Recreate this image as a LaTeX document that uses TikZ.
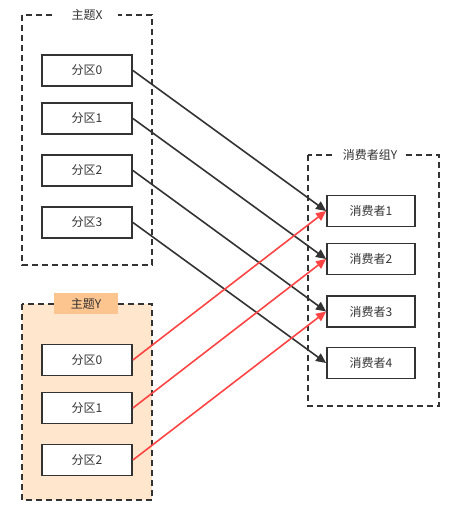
\documentclass[tikz,border=0pt]{standalone}
\usepackage{fontspec}
\setmainfont{Noto Sans CJK SC}
\usetikzlibrary{arrows.meta}
\definecolor{dk}{HTML}{333333}
\definecolor{redln}{HTML}{FF4444}
\definecolor{orbg}{HTML}{FFE6CC}
\definecolor{orlab}{HTML}{FCC48E}
\begin{document}
\begin{tikzpicture}[x=1pt,y=-1pt,
  every node/.style={font=\fontsize{12}{14}\selectfont, text=dk},
  partbox/.style={draw=dk, line width=1.8pt, fill=white, minimum width=90pt, minimum height=31pt, inner sep=0pt},
  grpbox/.style={draw=dk, line width=1.8pt, dash pattern=on 6pt off 4pt},
  grplabel/.style={fill=white, inner sep=0pt, minimum width=62pt, minimum height=16pt},
  blackarrow/.style={draw=dk, line width=1.6pt, -{Triangle[length=10pt,width=9pt]}},
  redarrow/.style={draw=redln, line width=1.6pt, -{Triangle[length=10pt,width=9pt]}}
]
\useasboundingbox (0,0) rectangle (452,509);
% group boxes
\draw[grpbox] (22,15) rectangle (152,265);
\node[grplabel] (lx) at (87,15) {主题X};
\draw[grpbox, fill=orbg] (22,304) rectangle (152,500);
\node[fill=orlab, inner sep=0pt, minimum width=64pt, minimum height=21pt] (ly) at (86,303.5) {主题Y};
\draw[grpbox] (308,155) rectangle (439,406);
\node[grplabel, minimum width=70pt] (lc) at (370,155) {消费者组Y};
% partitions X
\node[partbox] (x0) at (87,70.5) {分区0};
\node[partbox] (x1) at (87,118.5) {分区1};
\node[partbox] (x2) at (87,170.5) {分区2};
\node[partbox] (x3) at (87,222.5) {分区3};
% partitions Y
\node[partbox] (y0) at (87,360) {分区0};
\node[partbox] (y1) at (87,408) {分区1};
\node[partbox] (y2) at (87,460) {分区2};
% consumers
\node[partbox, minimum width=88pt] (c1) at (371,211) {消费者1};
\node[partbox, minimum width=88pt] (c2) at (371,259) {消费者2};
\node[partbox, minimum width=88pt] (c3) at (371,311.5) {消费者3};
\node[partbox, minimum width=88pt] (c4) at (371,363) {消费者4};
% arrows
\draw[blackarrow] (x0.east) -- (c1.west);
\draw[blackarrow] (x1.east) -- (c2.west);
\draw[blackarrow] (x2.east) -- (c3.west);
\draw[blackarrow] (x3.east) -- (c4.west);
\draw[redarrow] (y0.east) -- (c1.west);
\draw[redarrow] (y1.east) -- (c2.west);
\draw[redarrow] (y2.east) -- (c3.west);
\end{tikzpicture}
\end{document}
